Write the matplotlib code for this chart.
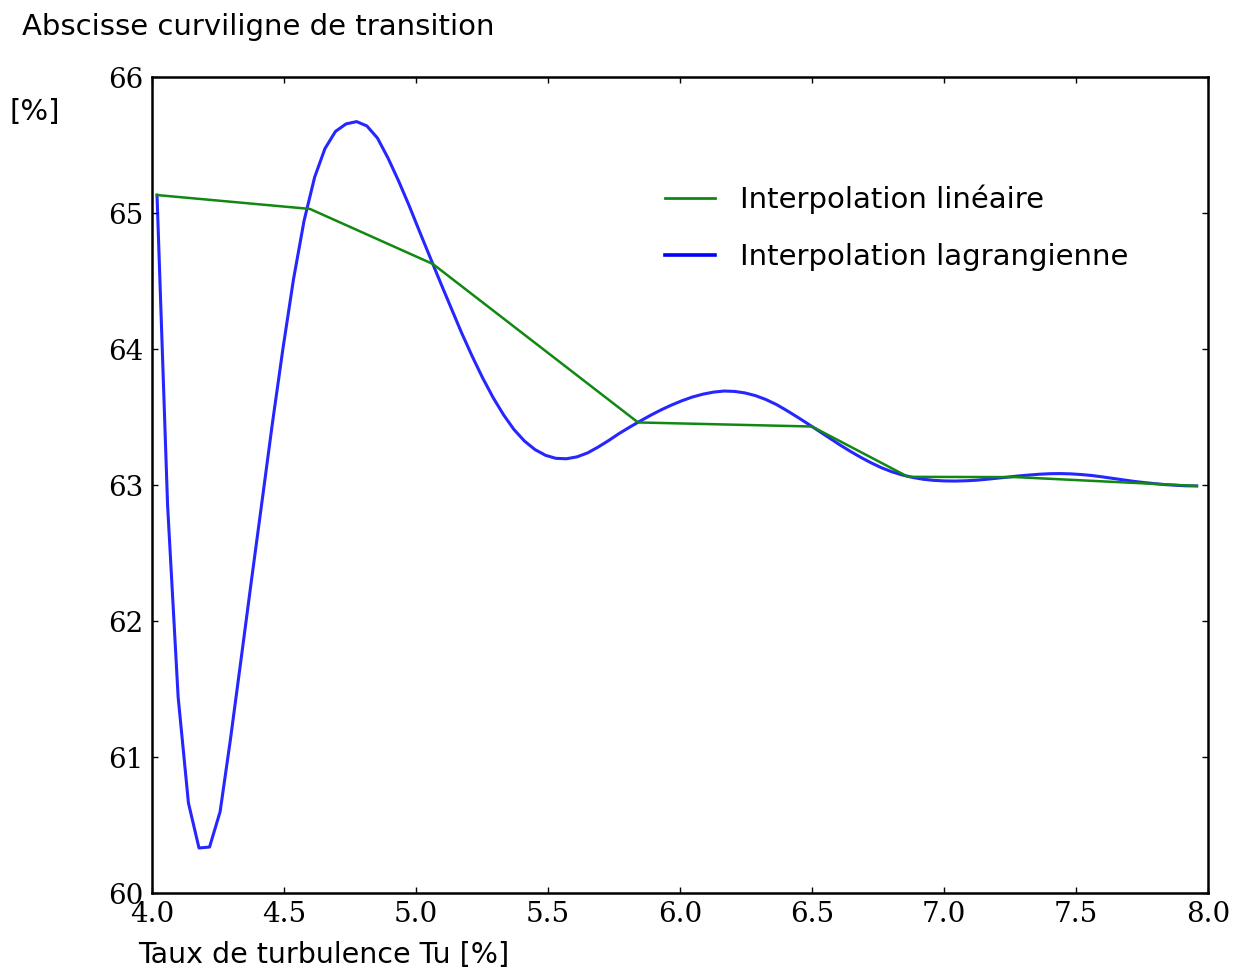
import matplotlib
matplotlib.use("Agg")
import matplotlib.pyplot as plt

# Linear interpolation nodes (Tu [%], transition abscissa [%])
LIN_TU = [4.019, 4.598, 5.064, 5.841, 6.500, 6.864, 7.270, 7.958]
LIN_S = [65.132, 65.030, 64.625, 63.460, 63.430, 63.060, 63.058, 62.993]

LAG_TU = [
    4.019, 4.059, 4.099, 4.138, 4.178, 4.218, 4.258, 4.297, 4.337, 4.377,
    4.417, 4.456, 4.496, 4.536, 4.576, 4.616, 4.655, 4.695, 4.735, 4.775,
    4.814, 4.854, 4.894, 4.934, 4.974, 5.013, 5.053, 5.093, 5.133, 5.172,
    5.212, 5.252, 5.292, 5.332, 5.371, 5.411, 5.451, 5.491, 5.530, 5.570,
    5.610, 5.650, 5.689, 5.729, 5.769, 5.809, 5.849, 5.888, 5.928, 5.968,
    6.008, 6.047, 6.087, 6.127, 6.167, 6.207, 6.246, 6.286, 6.326, 6.366,
    6.405, 6.445, 6.485, 6.525, 6.565, 6.604, 6.644, 6.684, 6.724, 6.763,
    6.803, 6.843, 6.883, 6.922, 6.962, 7.002, 7.042, 7.082, 7.121, 7.161,
    7.201, 7.241, 7.280, 7.320, 7.360, 7.400, 7.440, 7.479, 7.519, 7.559,
    7.599, 7.638, 7.678, 7.718, 7.758, 7.798, 7.837, 7.877, 7.917, 7.957,
]
LAG_S = [
    65.132, 62.853, 61.441, 60.662, 60.331, 60.338, 60.598, 61.128, 61.713, 62.303,
    62.883, 63.453, 64.003, 64.513, 64.943, 65.263, 65.473, 65.600, 65.655, 65.672,
    65.640, 65.551, 65.404, 65.236, 65.054, 64.866, 64.676, 64.487, 64.302, 64.122,
    63.950, 63.789, 63.643, 63.515, 63.408, 63.323, 63.260, 63.218, 63.196, 63.193,
    63.207, 63.236, 63.278, 63.326, 63.378, 63.425, 63.470, 63.512, 63.552, 63.588,
    63.620, 63.647, 63.668, 63.683, 63.691, 63.688, 63.677, 63.657, 63.628, 63.591,
    63.547, 63.499, 63.449, 63.398, 63.347, 63.297, 63.249, 63.204, 63.163, 63.127,
    63.097, 63.073, 63.055, 63.042, 63.034, 63.030, 63.029, 63.031, 63.035, 63.042,
    63.050, 63.058, 63.066, 63.073, 63.079, 63.083, 63.084, 63.082, 63.077, 63.070,
    63.060, 63.049, 63.038, 63.027, 63.018, 63.010, 63.003, 62.998, 62.994, 62.993,
]

X_TICKS = [4.0, 4.5, 5.0, 5.5, 6.0, 6.5, 7.0, 7.5, 8.0]
Y_TICKS = [60, 61, 62, 63, 64, 65, 66]

W, H = 1234, 967

fig = plt.figure(figsize=(W / 100, H / 100), dpi=100)
ax = fig.add_axes([152 / W, 1 - 893 / H, (1208 - 152) / W, (893 - 77) / H])

blue, = ax.plot(LAG_TU, LAG_S, color="#0000ff", lw=2.2, alpha=0.85,
                label="Interpolation lagrangienne")
green, = ax.plot(LIN_TU, LIN_S, color="#118811", lw=1.8,
                 label="Interpolation linéaire")

ax.set_xlim(4.0, 8.0)
ax.set_ylim(60, 66)
ax.set_xticks(X_TICKS)
ax.set_yticks(Y_TICKS)
ax.set_xticklabels([f"{v:.1f}" for v in X_TICKS])
ax.set_yticklabels([str(v) for v in Y_TICKS])
ax.tick_params(direction="in", length=4, width=1, top=True, right=True,
               labelsize=20, pad=6)
for lab in ax.get_xticklabels() + ax.get_yticklabels():
    lab.set_family("DejaVu Serif")
for sp in ax.spines.values():
    sp.set_linewidth(1.8)

leg = ax.legend(handles=[green, blue], loc="upper left",
                bbox_to_anchor=(0.486, 0.868), frameon=False,
                borderaxespad=0, borderpad=0, handlelength=1.7,
                handletextpad=0.85, labelspacing=1.0, fontsize=21)
for line in leg.get_lines():
    line.set_alpha(1)
leg.get_lines()[0].set_linewidth(2.0)
leg.get_lines()[1].set_linewidth(2.6)

fig.text(22 / W, 1 - 27 / H, "Abscisse curviligne de transition",
         fontsize=21, va="center", ha="left")
fig.text(10 / W, 1 - 112 / H, "[%]", fontsize=21, va="center", ha="left")
fig.text(138 / W, 1 - 955 / H, "Taux de turbulence Tu [%]",
         fontsize=20.5, va="center", ha="left")

fig.savefig("out.png", dpi=100)
